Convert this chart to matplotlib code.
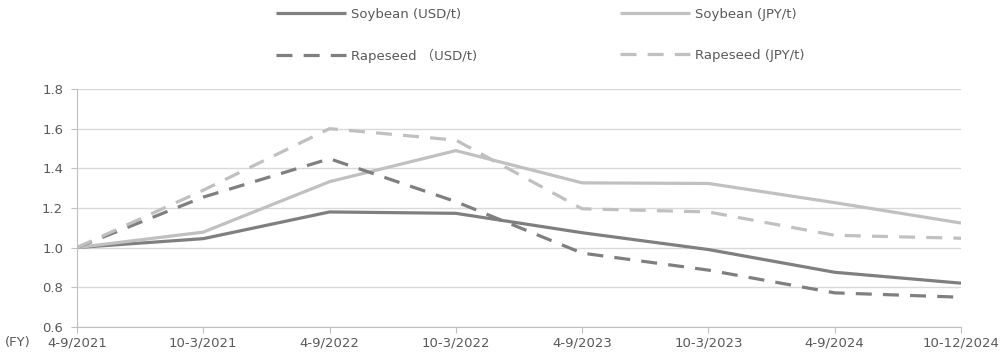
import matplotlib
matplotlib.use("Agg")
import matplotlib.pyplot as plt

periods = ["4-9/2021", "10-3/2021", "4-9/2022", "10-3/2022",
           "4-9/2023", "10-3/2023", "4-9/2024", "10-12/2024"]
soy_usd = [1.00, 1.045, 1.18, 1.173, 1.075, 0.99, 0.875, 0.82]
soy_jpy = [1.00, 1.078, 1.333, 1.49, 1.327, 1.324, 1.227, 1.124]
rape_usd = [1.00, 1.255, 1.449, 1.232, 0.972, 0.886, 0.771, 0.749]
rape_jpy = [1.00, 1.29, 1.601, 1.543, 1.196, 1.18, 1.062, 1.047]
y_ticks = [0.6, 0.8, 1.0, 1.2, 1.4, 1.6, 1.8]

DARK = "#7f7f7f"
LIGHT = "#c0c0c0"
TEXT = "#595959"
FONT = ["DejaVu Sans", "Noto Sans CJK JP"]
plt.rcParams["font.family"] = FONT

fig = plt.figure(figsize=(10, 3.6), dpi=100)
ax = fig.add_axes([0.077, 0.0925, 0.884, 0.6595])

x = range(len(periods))
dash = (0, (5, 3.5))
l1, = ax.plot(x, soy_usd, color=DARK, lw=2.3, solid_capstyle="butt", label="Soybean (USD/t)")
l2, = ax.plot(x, soy_jpy, color=LIGHT, lw=2.3, solid_capstyle="butt", label="Soybean (JPY/t)")
l3, = ax.plot(x, rape_usd, color=DARK, lw=2.3, ls=dash, label="Rapeseed （USD/t)")
l4, = ax.plot(x, rape_jpy, color=LIGHT, lw=2.3, ls=dash, label="Rapeseed (JPY/t)")

ax.set_xlim(0, len(periods) - 1)
ax.set_ylim(0.6, 1.8)
ax.set_yticks(y_ticks)
ax.set_yticklabels([f"{v:.1f}" for v in y_ticks])
ax.set_xticks(list(x))
ax.set_xticklabels(periods)
ax.yaxis.grid(True, color="#d9d9d9", lw=1)
ax.set_axisbelow(True)
for side in ["top", "right"]:
    ax.spines[side].set_visible(False)
for side in ["left", "bottom"]:
    ax.spines[side].set_color("#bfbfbf")
ax.tick_params(axis="both", colors="#bfbfbf", labelcolor=TEXT, labelsize=9.5, length=4, pad=3)
ax.tick_params(axis="y", pad=6)
ax.text(-0.0815, -0.068, "(FY)", transform=ax.transAxes, color=TEXT, fontsize=9.5,
        ha="left", va="center")

# column-wise fill: put the two soybean entries on the top row
fig.legend(handles=[l1, l3, l2, l4], loc="upper left", bbox_to_anchor=(0.268, 1.0),
           ncol=2, frameon=False, fontsize=9.5, labelcolor=TEXT, handlelength=5.3,
           handletextpad=0.4, columnspacing=10.8, labelspacing=2.1, borderaxespad=0.2)

fig.savefig("out.png", dpi=100)
